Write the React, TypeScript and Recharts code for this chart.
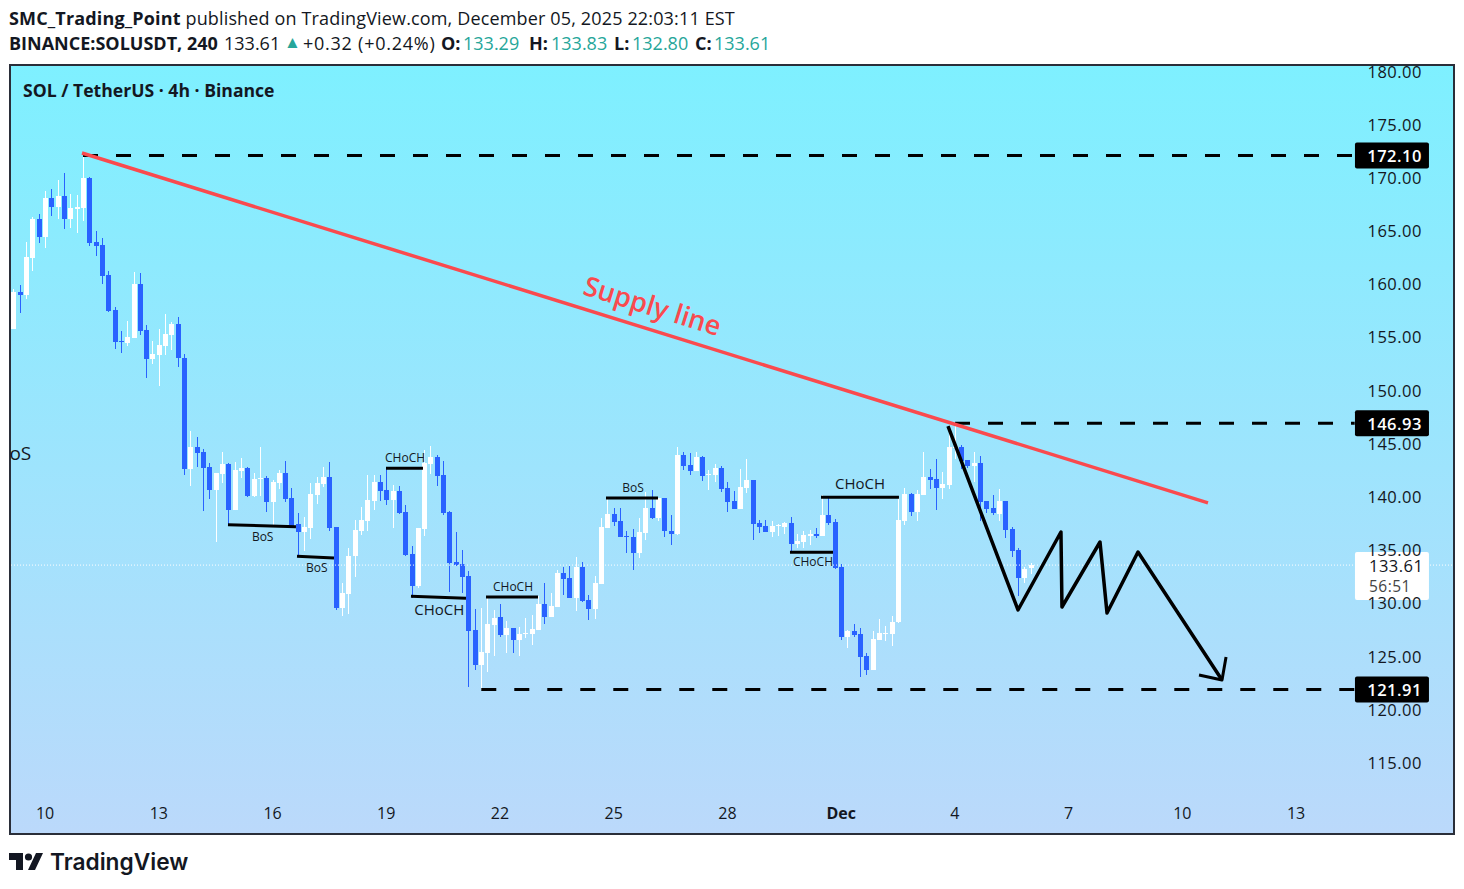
import { Bar, ComposedChart, Line, ReferenceDot, ReferenceLine, XAxis, YAxis } from "recharts";

const UP = "#ffffff";
const DOWN = "#2962ff";
const RED = "#fa4a4e";
const TEAL = "#26a69a";
const FONT = '"Open Sans", "Noto Sans", sans-serif';

// 4h candles, the first one sits five bars left of the "10" tick
const firstIndex = -5;
const opens = [
  155.8, 159.24, 158.99, 162.47, 166.13, 164.44, 168.11, 167.26, 168.3, 166.13,
  167.07, 167.17, 169.99, 163.97, 163.69, 160.87, 157.58, 154.67, 154.48, 154.95,
  160.03, 155.7, 152.98, 153.35, 154.2, 155.23, 156.27, 153.07, 142.64, 144.71,
  144.24, 142.83, 140.67, 142.17, 143.11, 138.79, 142.46, 142.74, 140.11, 141.7,
  141.8, 139.54, 141.33, 142.27, 139.92, 137.48, 136.72, 137.1, 140.2, 141.23,
  141.89, 137.19, 129.58, 130.9, 134.47, 136.82, 137.76, 139.64, 141.42, 140.67,
  139.73, 140.58, 138.6, 134.66, 131.65, 137.0, 143.11, 143.77, 142.08, 138.6,
  133.9, 133.72, 132.59, 127.51, 124.22, 125.35, 127.98, 128.74, 127.04, 127.7,
  126.57, 127.14, 127.14, 127.51, 129.96, 128.74, 129.67, 132.87, 132.4, 130.52,
  133.43, 130.33, 129.49, 131.84, 137.1, 138.42, 137.76, 136.35, 136.25, 134.75,
  136.63, 138.98, 138.04, 139.92, 136.82, 136.54, 143.96, 143.02, 142.46, 143.77,
  142.08, 142.08, 142.74, 140.86, 139.64, 138.89, 140.86, 141.61, 137.57, 137.29,
  136.72, 137.29, 137.19, 137.57, 135.6, 135.78, 136.35, 136.54, 136.35, 138.32,
  137.66, 133.43, 126.86, 127.42, 127.14, 125.07, 123.75, 126.58, 127.14, 127.14,
  128.26, 137.76, 140.3, 138.6, 140.2, 141.89, 141.71, 140.86, 141.14, 144.62,
  144.71, 143.49, 142.93, 143.21, 139.64, 138.98, 138.42, 139.64, 137.01, 135.03,
  132.4, 133.29,
];
const highs = [
  159.52, 159.93, 163.97, 166.32, 166.6, 168.77, 168.95, 169.8, 170.46, 168.48,
  168.39, 172.3, 170.08, 165.0, 164.35, 161.25, 157.86, 155.61, 156.55, 161.15,
  161.06, 156.17, 154.67, 155.8, 157.2, 156.45, 156.92, 153.45, 146.22, 145.65,
  144.52, 143.21, 142.27, 144.24, 143.21, 143.3, 143.68, 142.83, 142.27, 144.71,
  141.99, 141.61, 142.55, 143.4, 140.86, 138.51, 138.13, 141.33, 141.89, 142.83,
  143.3, 137.19, 131.93, 135.22, 137.85, 139.07, 142.08, 142.08, 142.08, 142.74,
  141.14, 141.05, 139.26, 135.41, 137.1, 144.43, 144.81, 143.96, 143.4, 138.7,
  136.72, 135.03, 133.06, 129.49, 129.58, 130.65, 129.39, 129.96, 128.36, 127.7,
  127.79, 128.64, 128.92, 130.71, 131.93, 130.99, 133.15, 133.43, 133.53, 134.37,
  133.9, 130.8, 132.59, 138.04, 139.82, 138.98, 138.98, 136.82, 137.0, 138.04,
  140.48, 140.67, 139.92, 139.92, 138.32, 144.71, 144.24, 144.15, 144.24, 143.87,
  142.55, 143.11, 142.93, 141.42, 140.55, 142.64, 143.58, 141.61, 137.85, 137.85,
  137.76, 137.48, 137.66, 138.13, 136.54, 136.82, 136.91, 137.1, 140.2, 139.92,
  137.95, 133.72, 127.51, 128.08, 127.7, 125.35, 127.42, 128.55, 127.89, 128.83,
  139.89, 140.86, 140.39, 140.67, 144.24, 142.64, 143.58, 142.36, 146.47, 146.94,
  144.9, 143.49, 144.24, 143.87, 139.64, 140.2, 140.77, 139.64, 137.19, 135.22,
  133.43, 133.83,
];
const lows = [
  155.8, 157.3, 158.62, 161.25, 163.88, 163.41, 166.42, 166.13, 165.19, 165.29,
  164.82, 165.95, 163.6, 162.66, 160.03, 157.39, 153.92, 153.54, 154.2, 154.95,
  155.23, 151.19, 152.51, 150.44, 153.35, 153.82, 152.23, 142.07, 141.05, 142.83,
  138.7, 139.83, 135.78, 141.3, 137.38, 138.79, 141.8, 140.01, 140.01, 140.11,
  138.6, 137.38, 140.77, 139.54, 137.16, 134.37, 134.94, 136.07, 139.36, 140.95,
  136.82, 129.39, 128.83, 129.02, 132.49, 136.44, 136.82, 138.79, 139.64, 139.26,
  137.1, 138.42, 134.47, 130.52, 131.46, 136.35, 142.17, 141.05, 138.32, 131.08,
  133.5, 130.99, 122.16, 123.75, 121.87, 123.57, 125.07, 126.86, 125.35, 125.35,
  125.07, 126.76, 126.1, 127.51, 128.08, 128.74, 129.67, 130.8, 130.52, 129.3,
  130.14, 128.45, 128.55, 131.84, 137.1, 137.29, 136.25, 134.75, 133.15, 134.28,
  135.97, 137.95, 137.76, 136.25, 135.5, 136.44, 142.55, 142.08, 142.46, 141.52,
  140.67, 141.42, 140.48, 138.6, 138.89, 138.89, 140.39, 135.97, 136.63, 136.72,
  136.25, 136.35, 136.54, 134.75, 135.22, 135.22, 135.5, 136.16, 136.35, 137.38,
  133.25, 126.57, 125.82, 126.86, 123.1, 123.28, 123.75, 126.58, 126.48, 126.01,
  128.17, 137.38, 138.23, 137.76, 140.2, 140.77, 138.79, 139.83, 140.77, 143.58,
  142.64, 142.74, 141.42, 137.76, 138.51, 138.32, 137.76, 136.16, 134.37, 130.71,
  131.93, 132.8,
];
const closes = [
  159.24, 158.99, 162.56, 166.13, 164.44, 168.11, 167.26, 168.3, 166.13, 167.17,
  167.26, 169.99, 163.88, 163.6, 160.78, 157.49, 154.57, 154.57, 155.04, 160.03,
  155.61, 152.98, 153.45, 154.29, 155.33, 156.27, 153.07, 142.64, 144.71, 144.15,
  142.74, 140.67, 142.27, 143.11, 138.79, 142.55, 142.74, 140.11, 141.7, 141.8,
  139.54, 141.42, 142.27, 139.83, 137.29, 136.72, 137.19, 140.3, 141.33, 141.89,
  137.1, 129.58, 130.99, 134.47, 136.91, 137.85, 139.73, 141.42, 140.58, 139.73,
  140.58, 138.51, 134.56, 131.65, 137.1, 143.21, 143.77, 141.99, 138.51, 133.81,
  133.62, 132.49, 127.42, 124.22, 125.45, 128.08, 128.64, 127.04, 127.7, 126.57,
  127.14, 127.23, 127.61, 129.96, 128.74, 129.77, 132.87, 132.31, 130.52, 133.43,
  130.24, 129.49, 131.93, 137.19, 138.42, 137.66, 136.25, 136.25, 134.75, 136.72,
  138.98, 138.04, 139.92, 136.82, 136.54, 143.96, 142.93, 142.46, 143.77, 141.99,
  142.17, 142.74, 140.76, 139.54, 138.88, 140.95, 141.61, 137.48, 137.19, 136.72,
  137.29, 137.38, 137.57, 135.6, 135.88, 136.44, 136.54, 136.35, 138.32, 137.57,
  133.34, 126.86, 127.42, 127.04, 124.98, 123.75, 126.67, 127.23, 127.23, 128.27,
  137.85, 140.3, 138.6, 140.3, 141.89, 141.61, 140.86, 141.24, 144.71, 144.71,
  143.4, 142.93, 143.21, 139.54, 138.89, 138.51, 139.64, 136.91, 134.94, 132.4,
  133.25, 133.61,
];

const dateTicks = [0, 18, 36, 54, 72, 90, 108, 126, 144, 162, 180, 198];
const dateLabels = ["10", "13", "16", "19", "22", "25", "28", "Dec", "4", "7", "10", "13"];
const priceTicks = [115, 120, 125, 130, 135, 140, 145, 150, 155, 160, 165, 170, 175, 180];

const lastPrice = 133.61;
const levels = [
  { price: 172.1, from: 5.92 },
  { price: 146.93, from: 143.94 },
  { price: 121.91, from: 68.96 },
];
const levelEnd = 207.2;

const supplyLine = [
  { i: 5.76, p: 172.34 },
  { i: 183.98, p: 139.45 },
];

// structure breaks: x1, price1, x2, price2
const structureLines = [
  [-5.48, 165.01, -2.47, 165.01],
  [-5.48, 145.79, 21.1, 145.69],
  [28.87, 137.41, 39.63, 137.22],
  [39.79, 134.44, 45.65, 134.28],
  [53.88, 142.71, 59.73, 142.71],
  [57.83, 130.68, 66.54, 130.49],
  [69.71, 130.61, 77.94, 130.61],
  [88.7, 139.92, 96.93, 139.92],
  [122.73, 139.98, 135.07, 139.98],
  [117.82, 134.81, 124.63, 134.81],
];
const structureLabels = [
  { i: 34.36, p: 136.32, text: "BoS", size: 12 },
  { i: 42.91, p: 133.34, text: "BoS", size: 12 },
  { i: 56.89, p: 143.7, text: "CHoCH", size: 12 },
  { i: 62.31, p: 129.39, text: "CHoCH", size: 15 },
  { i: 73.98, p: 131.58, text: "CHoCH", size: 12 },
  { i: 92.97, p: 140.88, text: "BoS", size: 12 },
  { i: 128.9, p: 141.26, text: "CHoCH", size: 15 },
  { i: 121.46, p: 133.93, text: "CHoCH", size: 12 },
];

const forecastPath = [
  { i: 142.83, p: 146.68 },
  { i: 153.91, p: 129.39 },
  { i: 160.71, p: 136.72 },
  { i: 160.87, p: 129.67 },
  { i: 166.89, p: 135.78 },
  { i: 168.0, p: 129.11 },
  { i: 172.9, p: 134.84 },
  { i: 186.2, p: 122.81 },
];
const forecastHead = [
  { i: 182.56, p: 123.28 },
  { i: 186.2, p: 122.81 },
  { i: 186.84, p: 124.97 },
];

const candles = opens.map((open, n) => ({
  i: firstIndex + n,
  open,
  high: highs[n],
  low: lows[n],
  close: closes[n],
}));

const Candle = (props: any) => {
  const { x, y, width, height, payload } = props;
  const { open, high, low, close } = payload;
  const perUnit = height / (high - low);
  const top = Math.round(y + (high - Math.max(open, close)) * perUnit);
  const bottom = Math.round(y + (high - Math.min(open, close)) * perUnit);
  const color = close >= open ? UP : DOWN;
  const wickX = Math.round(x + width / 2 - 0.5);
  return (
    <g fill={color}>
      <rect x={wickX} y={Math.round(y)} width={1} height={Math.max(Math.round(height), 1)} />
      <rect x={wickX - 2} y={top} width={5} height={Math.max(bottom - top, 1)} />
    </g>
  );
};

const DateTick = (props: any) => {
  const { x, y, payload } = props;
  const label = dateLabels[dateTicks.indexOf(payload.value)];
  return (
    <text
      x={x - 0.5}
      y={y - 12}
      textAnchor="middle"
      dominantBaseline="central"
      fontFamily={FONT}
      fontSize={16}
      fontWeight={label === "Dec" ? 700 : 400}
      fill="#131722"
    >
      {label}
    </text>
  );
};

const PriceTick = (props: any) => {
  const { y, payload } = props;
  return (
    <text
      x={1422}
      y={y - 0.5}
      textAnchor="end"
      dominantBaseline="central"
      fontFamily={FONT}
      fontSize={16.5}
      letterSpacing={0.5}
      fill="#131722"
    >
      {payload.value.toFixed(2)}
    </text>
  );
};

const LevelTag = (props: any) => {
  const { cx, cy, value } = props;
  return (
    <g>
      <rect x={cx - 37} y={cy - 13} width={74} height={26} rx={2} fill="#000" />
      <text
        x={cx + 30}
        y={cy}
        textAnchor="end"
        dominantBaseline="central"
        fontFamily={FONT}
        fontSize={16.5}
        fontWeight={600}
        letterSpacing={0.5}
        fill="#fff"
      >
        {value}
      </text>
    </g>
  );
};

const LastPriceTag = (props: any) => {
  const { cx, cy } = props;
  return (
    <g fontFamily={FONT} textAnchor="start" dominantBaseline="central">
      <rect x={cx - 37} y={cy - 13} width={74} height={48} rx={2} fill="#fff" />
      <text x={cx - 23} y={cy} fontSize={16.5} letterSpacing={0.5} fill="#131722">
        {lastPrice.toFixed(2)}
      </text>
      <text x={cx - 23} y={cy + 21} fontSize={15.5} letterSpacing={0.5} fill="#444">
        56:51
      </text>
    </g>
  );
};

const Chart = () => (
  <ComposedChart
    width={1464}
    height={889}
    data={candles}
    margin={{ top: 66, right: 10, bottom: 56, left: 11 }}
  >
    <XAxis
      dataKey="i"
      type="number"
      domain={[-5.476, 222.92]}
      allowDataOverflow
      ticks={dateTicks}
      interval={0}
      mirror
      axisLine={false}
      tickLine={false}
      tick={<DateTick />}
    />
    <YAxis
      orientation="right"
      type="number"
      domain={[108.43, 180.517]}
      allowDataOverflow
      ticks={priceTicks}
      interval={0}
      mirror
      axisLine={false}
      tickLine={false}
      tick={<PriceTick />}
    />
    <ReferenceLine
      segment={[
        { x: -5.476, y: lastPrice },
        { x: 222.92, y: lastPrice },
      ]}
      stroke="#fff"
      strokeDasharray="1 2"
    />
    <Bar
      dataKey={(d: any) => [d.low, d.high]}
      barSize={5}
      shape={<Candle />}
      isAnimationActive={false}
    />
    {levels.map((l) => (
      <ReferenceLine
        key={l.price}
        segment={[
          { x: l.from, y: l.price },
          { x: levelEnd, y: l.price },
        ]}
        stroke="#000"
        strokeWidth={3}
        strokeDasharray="15 18"
      />
    ))}
    {structureLines.map((s, n) => (
      <ReferenceLine
        key={n}
        segment={[
          { x: s[0], y: s[1] },
          { x: s[2], y: s[3] },
        ]}
        stroke="#000"
        strokeWidth={3}
      />
    ))}
    <ReferenceLine
      segment={[
        { x: supplyLine[0].i, y: supplyLine[0].p },
        { x: supplyLine[1].i, y: supplyLine[1].p },
      ]}
      stroke={RED}
      strokeWidth={3.5}
    />
    <Line data={forecastPath} dataKey="p" stroke="#000" strokeWidth={3.5} strokeLinejoin="round" dot={false} isAnimationActive={false} />
    <Line data={forecastHead} dataKey="p" stroke="#000" strokeWidth={3} strokeLinejoin="round" dot={false} isAnimationActive={false} />
    {structureLabels.map((t, n) => (
      <ReferenceDot
        key={n}
        x={t.i}
        y={t.p}
        shape={(p: any) => (
          <text
            x={p.cx}
            y={t.size > 12 ? p.cy - 1 : p.cy}
            textAnchor="middle"
            dominantBaseline="central"
            fontFamily={FONT}
            fontSize={t.size}
            fontWeight={t.size > 12 ? 500 : 400}
            fill="#131722"
          >
            {t.text}
          </text>
        )}
      />
    ))}
    <ReferenceDot
      x={96.1}
      y={158.05}
      shape={(p: any) => (
        <text
          x={p.cx}
          y={p.cy}
          textAnchor="middle"
          dominantBaseline="central"
          fontFamily={FONT}
          fontSize={27}
          fontWeight={600}
          fill={RED}
          transform={`rotate(17.3 ${p.cx} ${p.cy})`}
        >
          Supply line
        </text>
      )}
    />
    <ReferenceDot
      x={-4}
      y={144.15}
      shape={(p: any) => (
        <text
          x={p.cx}
          y={p.cy}
          textAnchor="middle"
          dominantBaseline="central"
          fontFamily={FONT}
          fontSize={19}
          fill="#131722"
        >
          oS
        </text>
      )}
    />
    {levels.map((l) => (
      <ReferenceDot
        key={l.price}
        x={213.1}
        y={l.price}
        shape={(p: any) => <LevelTag {...p} value={l.price.toFixed(2)} />}
      />
    ))}
    <ReferenceDot x={213.1} y={lastPrice} shape={(p: any) => <LastPriceTag {...p} />} />
  </ComposedChart>
);

const Logo = () => (
  <svg width={34} height={19} viewBox="0 0 34 19" style={{ position: "absolute", left: 9, top: 852 }}>
    <path d="M0 1h14v17H7V8H0z M27 1h7l-8 17h-7z" fill="#131722" />
    <circle cx={19.5} cy={5} r={3.6} fill="#131722" />
  </svg>
);

const Quote = (props: { left: number; top?: number; size?: number; spacing?: number; bold?: boolean; color?: string; children: any }) => (
  <span
    style={{
      position: "absolute",
      left: props.left,
      top: props.top ?? 0,
      fontSize: props.size,
      lineHeight: props.size ? 1 : undefined,
      letterSpacing: props.spacing,
      fontWeight: props.bold ? 700 : 400,
      color: props.color,
    }}
  >
    {props.children}
  </span>
);

export default function App() {
  return (
    <div
      style={{
        position: "absolute",
        left: 0,
        top: 0,
        width: 1464,
        height: 889,
        background: "#fff",
        fontFamily: FONT,
        color: "#131722",
        overflow: "hidden",
      }}
    >
      <div style={{ position: "absolute", left: 9, top: 6, fontSize: 18, letterSpacing: 0.15, whiteSpace: "nowrap" }}>
        <b>SMC_Trading_Point</b> published on TradingView.com, December 05, 2025 22:03:11 EST
      </div>
      <div style={{ position: "absolute", left: 0, top: 31, fontSize: 18, whiteSpace: "nowrap" }}>
        <Quote left={9} bold>BINANCE:SOLUSDT, 240</Quote>
        <Quote left={224}>133.61</Quote>
        <Quote left={284} top={2} size={17} color={TEAL}>▲</Quote>
        <Quote left={303} spacing={0.75}>+0.32 (+0.24%)</Quote>
        <Quote left={441} bold>O:</Quote>
        <Quote left={463} color={TEAL}>133.29</Quote>
        <Quote left={529} bold>H:</Quote>
        <Quote left={551} color={TEAL}>133.83</Quote>
        <Quote left={614} bold>L:</Quote>
        <Quote left={632} color={TEAL}>132.80</Quote>
        <Quote left={695} bold>C:</Quote>
        <Quote left={714} color={TEAL}>133.61</Quote>
      </div>
      <div
        style={{
          position: "absolute",
          left: 9,
          top: 64,
          width: 1442,
          height: 767,
          border: "2px solid #2a2e39",
          background: "linear-gradient(#7ef0ff, #bbd9fb)",
        }}
      />
      <div style={{ position: "absolute", left: 0, top: 0 }}>
        <Chart />
      </div>
      <div style={{ position: "absolute", left: 23, top: 78, fontSize: 17.6, fontWeight: 700, whiteSpace: "nowrap" }}>
        SOL / TetherUS · 4h · Binance
      </div>
      <Logo />
      <div style={{ position: "absolute", left: 50, top: 848, fontFamily: "Inter", fontSize: 22.7, fontWeight: 600, whiteSpace: "nowrap" }}>
        TradingView
      </div>
    </div>
  );
}
